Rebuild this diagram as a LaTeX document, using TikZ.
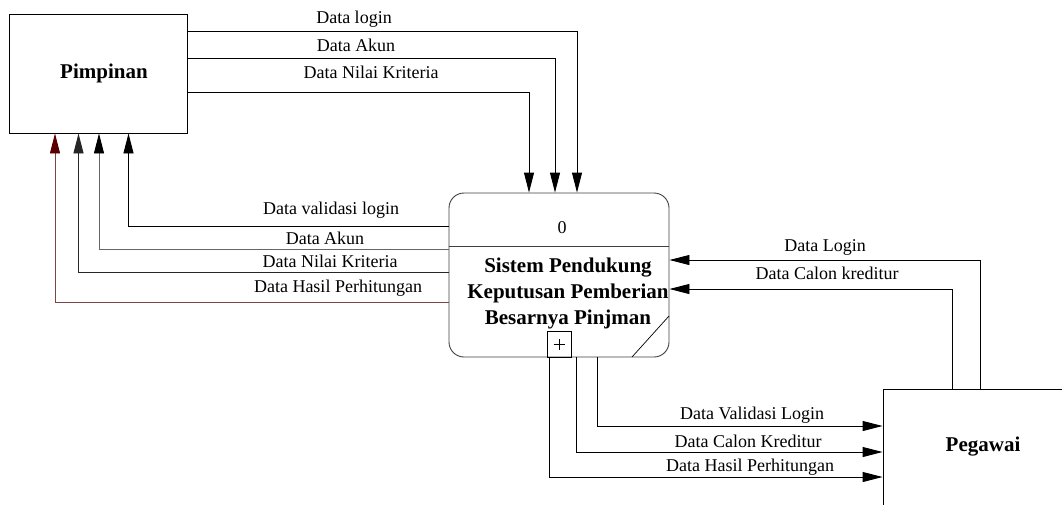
\documentclass[tikz,border=0pt]{standalone}
\usepackage{fontspec}
\setmainfont{LiberationSerif}[Extension=.ttf,UprightFont=*-Regular,BoldFont=*-Bold]
\usetikzlibrary{arrows.meta,calc}
\definecolor{hasilline}{RGB}{125,70,70}
\definecolor{hasiltip}{RGB}{90,0,0}
\begin{document}
\begin{tikzpicture}[x=1pt,y=-1pt,
  flow/.style={draw=black,line width=0.9pt,-{Triangle[length=20pt,width=10pt]}},
  entity/.style={draw=black,line width=0.9pt,inner sep=0pt,fill=white},
  boldtxt/.style={font=\fontsize{21}{26}\selectfont\bfseries,inner sep=0pt},
  lbl/.style={font=\fontsize{18}{20}\selectfont,inner sep=0pt}]
\useasboundingbox (0,0) rectangle (1062,504);
\clip (0,0) rectangle (1062,504);

% external entities and the process
\node[entity,minimum width=178pt,minimum height=119pt] (pim) at (98.8,73.5) {};
\node[boldtxt] (pimtxt) at (104,73) {Pimpinan};

\node[entity,minimum width=192pt,minimum height=140pt] (peg) at (979,459) {};
\node[boldtxt] (pegtxt) at (983,447) {Pegawai};

\node[draw=black!75,line width=0.9pt,fill=white,rounded corners=15pt,
      minimum width=220pt,minimum height=164pt,inner sep=0pt] (proc) at (559,275) {};
\coordinate (div) at (0,246);
\draw[draw=black!75,line width=0.9pt] (proc.west |- div) -- (proc.east |- div);
\node[lbl] (procid) at (562,228) {0};
\node[boldtxt,align=center] (proctitle) at (568,293)
  {Sistem Pendukung\\Keputusan Pemberian\\Besarnya Pinjman};
% sub-process marker and corner stripe
\draw[line width=0.8pt] (547,331) rectangle (571,357);
\draw[line width=0.7pt] (553.5,344) -- (564.5,344) (559,338.5) -- (559,349.5);
\draw[line width=0.7pt] (632,357) -- (669,316);

% Pimpinan -> process
\coordinate (a1) at (577,31);
\coordinate (a2) at (555,58);
\coordinate (a3) at (529,92);
\draw[flow] (pim.east |- a1) -| (proc.north -| a1);
\draw[flow] (pim.east |- a2) -| (proc.north -| a2);
\draw[flow] (pim.east |- a3) -| (proc.north -| a3);
\node[lbl] (la1) at (354,19) {Data login};
\node[lbl] (la2) at (356,45) {Data Akun};
\node[lbl] (la3) at (371,72) {Data Nilai Kriteria};

% process -> Pimpinan
\coordinate (b1) at (128.5,226);
\coordinate (b2) at (99,249);
\coordinate (b3) at (78.5,272);
\coordinate (b4) at (55,302);
\draw[flow] (proc.west |- b1) -| (pim.south -| b1);
\draw[flow,draw=black!60,-{Triangle[length=20pt,width=10pt,color=black]}] (proc.west |- b2) -| (pim.south -| b2);
\draw[flow,draw=black!85] (proc.west |- b3) -| (pim.south -| b3);
\draw[flow,draw=hasilline,-{Triangle[length=20pt,width=10pt,color=hasiltip]}] (proc.west |- b4) -| (pim.south -| b4);
\node[lbl] (lb1) at (331,210) {Data validasi login};
\node[lbl] (lb2) at (325,238) {Data Akun};
\node[lbl] (lb3) at (330,261) {Data Nilai Kriteria};
\node[lbl] (lb4) at (338,288) {Data Hasil Perhitungan};

% Pegawai -> process
\coordinate (c1) at (980,260);
\coordinate (c2) at (952,289);
\draw[flow] (peg.north -| c1) |- (proc.east |- c1);
\draw[flow] (peg.north -| c2) |- (proc.east |- c2);
\node[lbl] (lc1) at (825,247) {Data Login};
\node[lbl] (lc2) at (827,273) {Data Calon kreditur};

% process -> Pegawai
\coordinate (d1) at (597.5,426);
\coordinate (d2) at (576,452);
\coordinate (d3) at (549,477);
\draw[flow] (proc.south -| d1) |- (peg.west |- d1);
\draw[flow] (proc.south -| d2) |- (peg.west |- d2);
\draw[flow] (proc.south -| d3) |- (peg.west |- d3);
\node[lbl] (ld1) at (752,415) {Data Validasi Login};
\node[lbl] (ld2) at (748,441) {Data Calon Kreditur};
\node[lbl] (ld3) at (750,467) {Data Hasil Perhitungan};
\end{tikzpicture}
\end{document}
